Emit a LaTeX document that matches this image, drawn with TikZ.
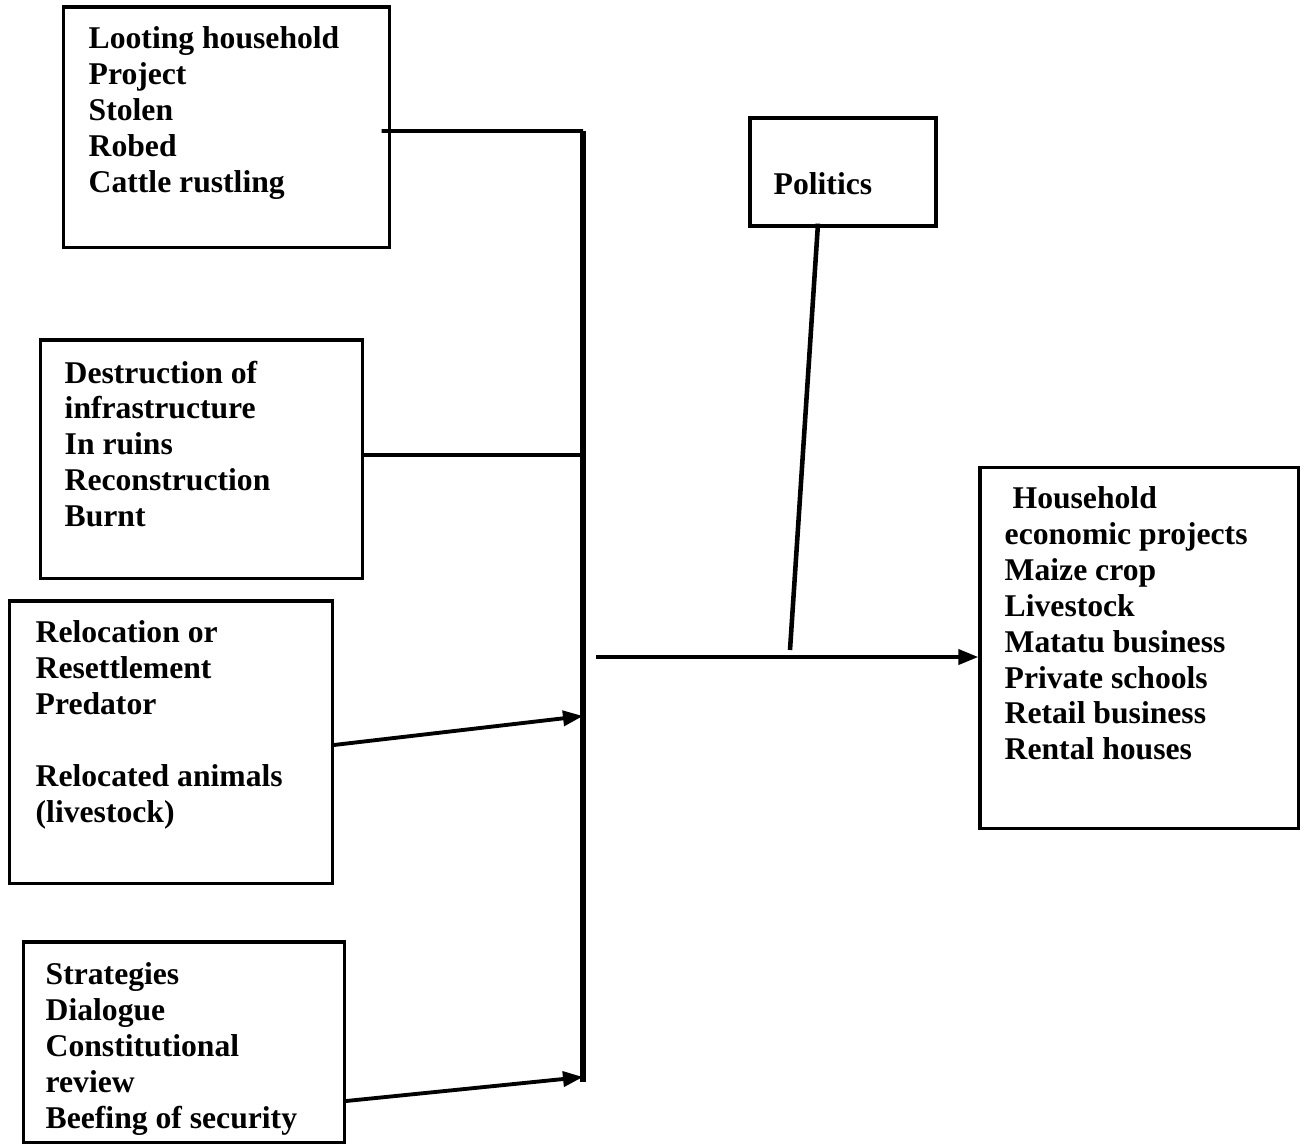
\documentclass[tikz,border=0pt]{standalone}
\usepackage{fontspec}
\setmainfont{Liberation Serif}
\usetikzlibrary{arrows.meta}
\tikzset{
  box/.style={draw, line width=0.9pt, inner sep=0pt},
  txt/.style={anchor=north west, inner sep=0pt, align=left,
    font=\fontsize{9}{10.2}\selectfont\bfseries},
  conn/.style={line width=1.1pt},
  arr/.style={line width=1.1pt, -{Triangle[length=0.2cm,width=0.15cm]}}
}
\begin{document}
\begin{tikzpicture}[x=0.01cm,y=-0.01cm]
\useasboundingbox (0,0) rectangle (1309,1144);

% boxes on the left
\node[box, minimum width=3.25cm, minimum height=2.40cm] (loot) at (226.5,127) {};
\node[box, minimum width=3.21cm, minimum height=2.38cm] (infra) at (201.5,459) {};
\node[box, minimum width=3.22cm, minimum height=2.82cm] (reloc) at (171,742) {};
\node[box, minimum width=3.20cm, minimum height=2.00cm] (strat) at (184,1042) {};
% boxes on the right
\node[box, minimum width=1.86cm, minimum height=1.08cm] (pol) at (843,172) {};
\node[box, minimum width=3.18cm, minimum height=3.60cm] (hh) at (1139,648) {};

\node[txt] (loottxt) at (88,26) {Looting household\\Project\\Stolen\\Robed\\Cattle rustling};
\node[txt] (infratxt) at (64,360) {Destruction of\\infrastructure\\In ruins\\Reconstruction\\Burnt};
\node[txt] (reloctxt) at (35,620) {Relocation or\\Resettlement\\Predator\\[10.2pt]Relocated animals\\(livestock)};
\node[txt] (strattxt) at (45,962) {Strategies\\Dialogue\\Constitutional\\review\\Beefing of security};
\node[txt] (poltxt) at (773,172) {Politics};
\node[txt] (hhtxt) at (1004,486) {\ Household\\economic projects\\Maize crop\\Livestock\\Matatu business\\Private schools\\Retail business\\Rental houses};

% the bar
\coordinate (bartop) at (583,131);
\coordinate (barbot) at (583,1082);
\coordinate (a3) at (583,716);
\coordinate (a4) at (583,1077);
\coordinate (hub) at (596,657);
\coordinate (pmeet) at (790,650);
\draw[line width=1.5pt] (bartop) -- (barbot);

\draw[conn] ([xshift=-0.09cm,yshift=-0.04cm]loot.east) -- (bartop);
\draw[conn] ([yshift=0.04cm]infra.east) -- ([yshift=0.04cm]infra.east -| bartop);
\draw[arr] ([yshift=-0.03cm]reloc.east) -- (a3);
\draw[arr] ([yshift=-0.59cm]strat.east) -- (a4);
\draw[arr] (hub) -- (hub -| hh.west);
\draw[line width=1.3pt] ([xshift=-0.25cm,yshift=0.04cm]pol.south) -- (pmeet);
\end{tikzpicture}
\end{document}
